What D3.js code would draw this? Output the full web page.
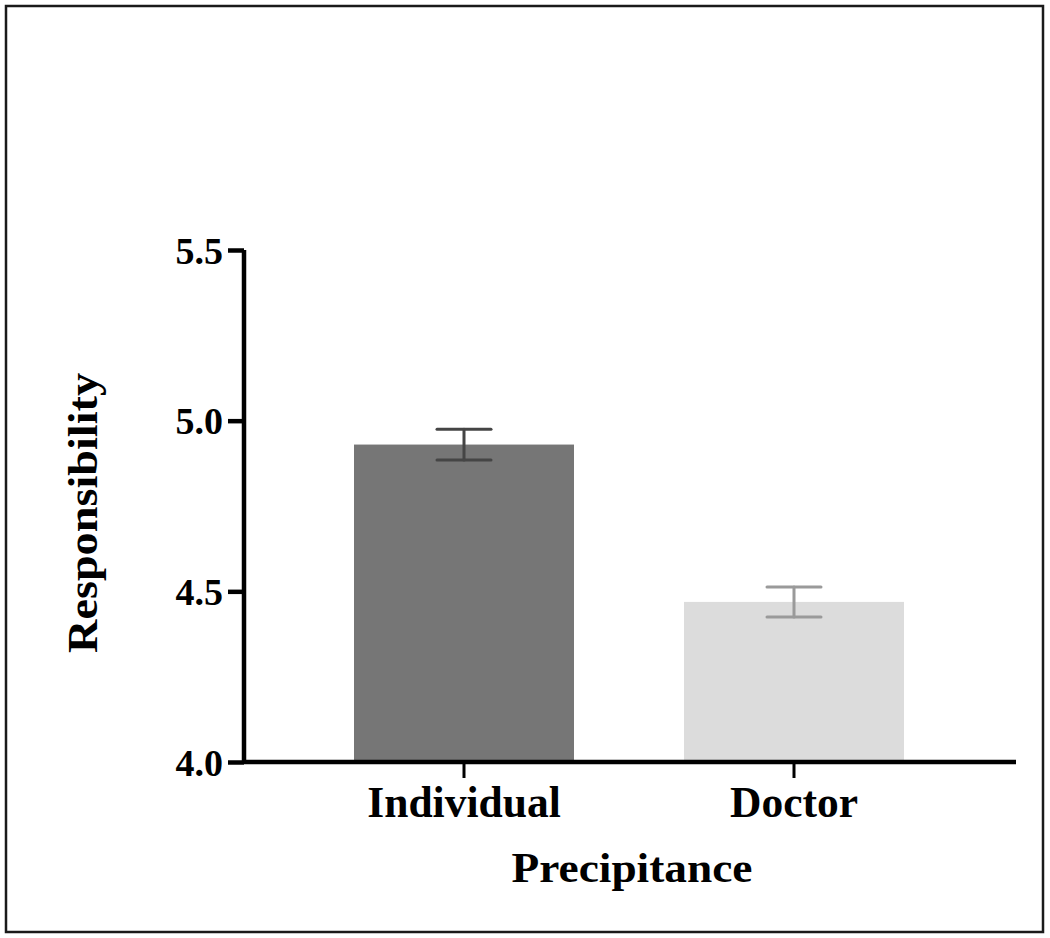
<!DOCTYPE html>
<html><head><meta charset="utf-8">
<script src="https://cdn.jsdelivr.net/npm/d3@7"></script>
<style>html,body{margin:0;padding:0;background:#fff;}svg{display:block;}</style>
</head><body>
<svg id="c" width="1050" height="938"></svg>
<script>
const categories = ["Individual", "Doctor"];
const means = [4.93, 4.469];
const errors = [0.045, 0.044];
const barColors = ["#767676", "#dcdcdc"];
const errColors = ["#454545", "#9a9a9a"];
const yTicks = [4.0, 4.5, 5.0, 5.5];
const yTitle = "Responsibility";
const xTitle = "Precipitance";

const svg = d3.select("#c");
const font = "'Liberation Serif','Times New Roman',serif";

svg.append("rect").attr("x", 6).attr("y", 6).attr("width", 1037).attr("height", 926)
  .attr("fill", "none").attr("stroke", "#1a1a1a").attr("stroke-width", 2.5);

const x = d3.scaleBand().domain(categories).range([244, 1014]).paddingInner(1/3).paddingOuter(1/3);
const y = d3.scaleLinear().domain([4.0, 5.5]).range([762, 250]);

// bars
svg.selectAll("rect.bar").data(categories).join("rect").attr("class", "bar")
  .attr("x", d => x(d)).attr("width", x.bandwidth())
  .attr("y", (d, i) => y(means[i])).attr("height", (d, i) => y(4.0) - y(means[i]))
  .attr("fill", (d, i) => barColors[i]);

// error bars
const eg = svg.append("g");
categories.forEach((c, i) => {
  const cx = x(c) + x.bandwidth() / 2;
  const top = y(means[i] + errors[i]), bot = y(means[i] - errors[i]);
  const g = eg.append("g").attr("stroke", errColors[i]).attr("stroke-width", 3).attr("stroke-linecap", "round");
  g.append("line").attr("x1", cx).attr("x2", cx).attr("y1", top).attr("y2", bot);
  g.append("line").attr("x1", cx - 27).attr("x2", cx + 27).attr("y1", top).attr("y2", top);
  g.append("line").attr("x1", cx - 27).attr("x2", cx + 27).attr("y1", bot).attr("y2", bot);
});

// y axis
const yAxis = d3.axisLeft(y).tickValues(yTicks).tickFormat(d3.format(".1f")).tickSize(16).tickPadding(5);
const ya = svg.append("g").attr("transform", "translate(244,0)").call(yAxis);
ya.select(".domain").attr("stroke", "#000").attr("stroke-width", 4.5).attr("d", "M0,250V762");
ya.selectAll(".tick line").attr("stroke", "#000").attr("stroke-width", 4.5);
ya.selectAll(".tick text").attr("font-family", font).attr("font-weight", "bold")
  .attr("font-size", 38).attr("fill", "#000").attr("dy", "0.35em");

// x axis
const xAxis = d3.axisBottom(x).tickSize(16).tickPadding(10);
const xa = svg.append("g").attr("transform", "translate(0,762)").call(xAxis);
xa.select(".domain").attr("stroke", "#000").attr("stroke-width", 4.5).attr("d", "M244,0H1016");
xa.selectAll(".tick line").attr("stroke", "#000").attr("stroke-width", 3);
xa.selectAll(".tick text").attr("font-family", font).attr("font-weight", "bold")
  .attr("font-size", 43.5).attr("fill", "#000").attr("dy", null).attr("y", 55);

// titles
svg.append("text").attr("x", 632).attr("y", 882).attr("text-anchor", "middle")
  .attr("font-family", font).attr("font-weight", "bold").attr("font-size", 42)
  .attr("textLength", 241).attr("lengthAdjust", "spacingAndGlyphs").text(xTitle);
svg.append("text").attr("transform", "translate(97,513) rotate(-90)").attr("text-anchor", "middle")
  .attr("font-family", font).attr("font-weight", "bold").attr("font-size", 42)
  .attr("textLength", 280).attr("lengthAdjust", "spacingAndGlyphs").text(yTitle);
</script>
</body></html>
